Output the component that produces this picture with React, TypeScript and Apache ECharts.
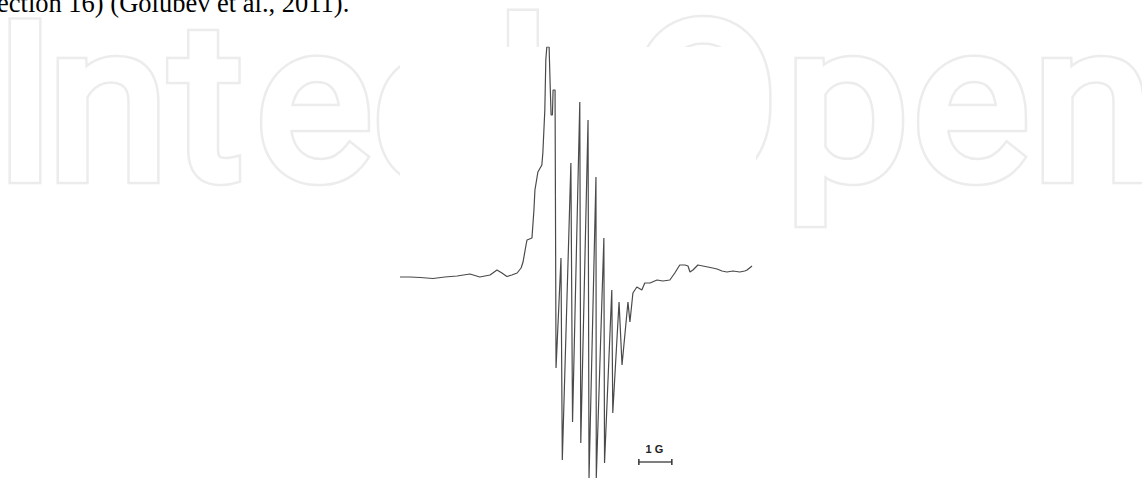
import React, { useEffect, useRef } from "react";
import * as echarts from "echarts";

// Magnetic field offset (G) and first-derivative EPR signal (arb. units)
const fieldG = [
  0.0, 0.3, 0.61, 1.0, 1.36, 1.73, 2.12, 2.42, 2.73, 2.94, 3.09, 3.24, 3.39, 3.55, 3.67, 3.73,
  3.82, 3.85, 4.0, 4.06, 4.09, 4.18, 4.3, 4.33, 4.39, 4.42, 4.45, 4.52, 4.55, 4.58, 4.62, 4.64,
  4.7, 4.73, 4.88, 4.92, 5.18, 5.23, 5.45, 5.48, 5.7, 5.73, 5.94, 5.95, 6.18, 6.2, 6.42, 6.45,
  6.64, 6.73, 6.91, 6.97, 7.06, 7.18, 7.33, 7.42, 7.58, 7.79, 7.97, 8.18, 8.33, 8.48, 8.64, 8.73,
  8.79, 8.88, 9.03, 9.18, 9.33, 9.48, 9.61, 9.76, 9.91, 10.09, 10.3, 10.45, 10.52, 10.67,
];
const signal = [
  0, 0, -0.5, -1.5, 0, 1, 3, 0, 2, 7, 4, 0.5, 2, 4, 9, 15,
  32, 37, 39, 67, 87, 105, 112, 124, 167, 217, 230, 230, 194, 162, 162, 187,
  187, -91, 19, -183, 114, -145, 175, -166, 157, -201, 100, -201, 39, -186, -13, -136,
  -25, -88, -25, -45, -16, -10, -13, -6, -6, -3, -4, -3, 4, 12, 12, 11,
  5, 7, 12, 11, 10, 9, 8, 6, 5, 6, 5, 6, 7, 11,
];
const scaleBarG = [7.24, 8.24];
const scaleBarLevel = -185;
const scaleLabel = "1 G";
const caption = "ection 16) (Golubev et al., 2011).";
const watermark = ["I", "n", "t", "e", "c", "h", "O", "p", "e", "n"];

export default function App() {
  const ref = useRef<HTMLDivElement>(null);

  useEffect(() => {
    if (!ref.current) return;
    const chart = echarts.init(ref.current, undefined, { renderer: "svg" });
    const letterCx = [25, 108, 207, 314, 430, 558, 703, 847, 971, 1093];
    const letterY = 103;

    chart.setOption({
      animation: false,
      backgroundColor: "#ffffff",
      grid: { left: 400, top: 47, width: 352, height: 431, containLabel: false },
      xAxis: { type: "value", min: 0, max: 10.67, show: false },
      yAxis: { type: "value", min: -201, max: 230, show: false },
      series: [
        {
          type: "line",
          z: 5,
          data: fieldG.map((f, i) => [f, signal[i]]),
          showSymbol: false,
          symbol: "none",
          lineStyle: { color: "#4a4a4a", width: 1.2 },
        },
      ],
    });

    const p0 = chart.convertToPixel({ gridIndex: 0 }, [scaleBarG[0], scaleBarLevel]) as number[];
    const p1 = chart.convertToPixel({ gridIndex: 0 }, [scaleBarG[1], scaleBarLevel]) as number[];

    const graphic: any[] = [];
    const wmFont = "218px Roboto";
    watermark.forEach((ch, i) => {
      // outer ring (outline of an emboldened glyph)
      graphic.push({
        type: "text",
        z: 0,
        silent: true,
        x: letterCx[i],
        y: letterY,
        style: {
          text: ch,
          font: wmFont,
          fill: "#ececec",
          stroke: "#ececec",
          lineWidth: 12.5,
          lineJoin: "round",
          textAlign: "center",
          textVerticalAlign: "middle",
        },
      });
    });
    watermark.forEach((ch, i) => {
      graphic.push({
        type: "text",
        z: 0,
        silent: true,
        x: letterCx[i],
        y: letterY,
        style: {
          text: ch,
          font: wmFont,
          fill: "#ffffff",
          stroke: "#ffffff",
          lineWidth: 7.5,
          lineJoin: "round",
          textAlign: "center",
          textVerticalAlign: "middle",
        },
      });
    });
    graphic.push({
      type: "rect",
      z: 1,
      silent: true,
      shape: { x: 400, y: 47, width: 356, height: 432 },
      style: { fill: "#ffffff" },
    });
    graphic.push({
      type: "text",
      z: 3,
      x: -3,
      y: 3,
      style: {
        text: caption,
        font: "26.5px 'Liberation Serif'",
        fill: "#000000",
        textAlign: "left",
        textVerticalAlign: "middle",
      },
    });
    graphic.push({
      type: "line",
      z: 3,
      shape: { x1: p0[0], y1: p0[1], x2: p1[0], y2: p1[1] },
      style: { stroke: "#555555", lineWidth: 1.5 },
    });
    [p0, p1].forEach((p) =>
      graphic.push({
        type: "line",
        z: 3,
        shape: { x1: p[0], y1: p[1] - 3, x2: p[0], y2: p[1] + 3 },
        style: { stroke: "#333333", lineWidth: 1.5 },
      })
    );
    graphic.push({
      type: "text",
      z: 3,
      x: (p0[0] + p1[0]) / 2 - 1,
      y: p0[1] - 13,
      style: {
        text: scaleLabel,
        font: "bold 11px 'Liberation Sans'",
        fill: "#222222",
        textAlign: "center",
        textVerticalAlign: "middle",
      },
    });

    chart.setOption({ graphic });

    return () => chart.dispose();
  }, []);

  return (
    <div
      ref={ref}
      style={{ position: "fixed", left: 0, top: 0, width: 1142, height: 479 }}
    />
  );
}
